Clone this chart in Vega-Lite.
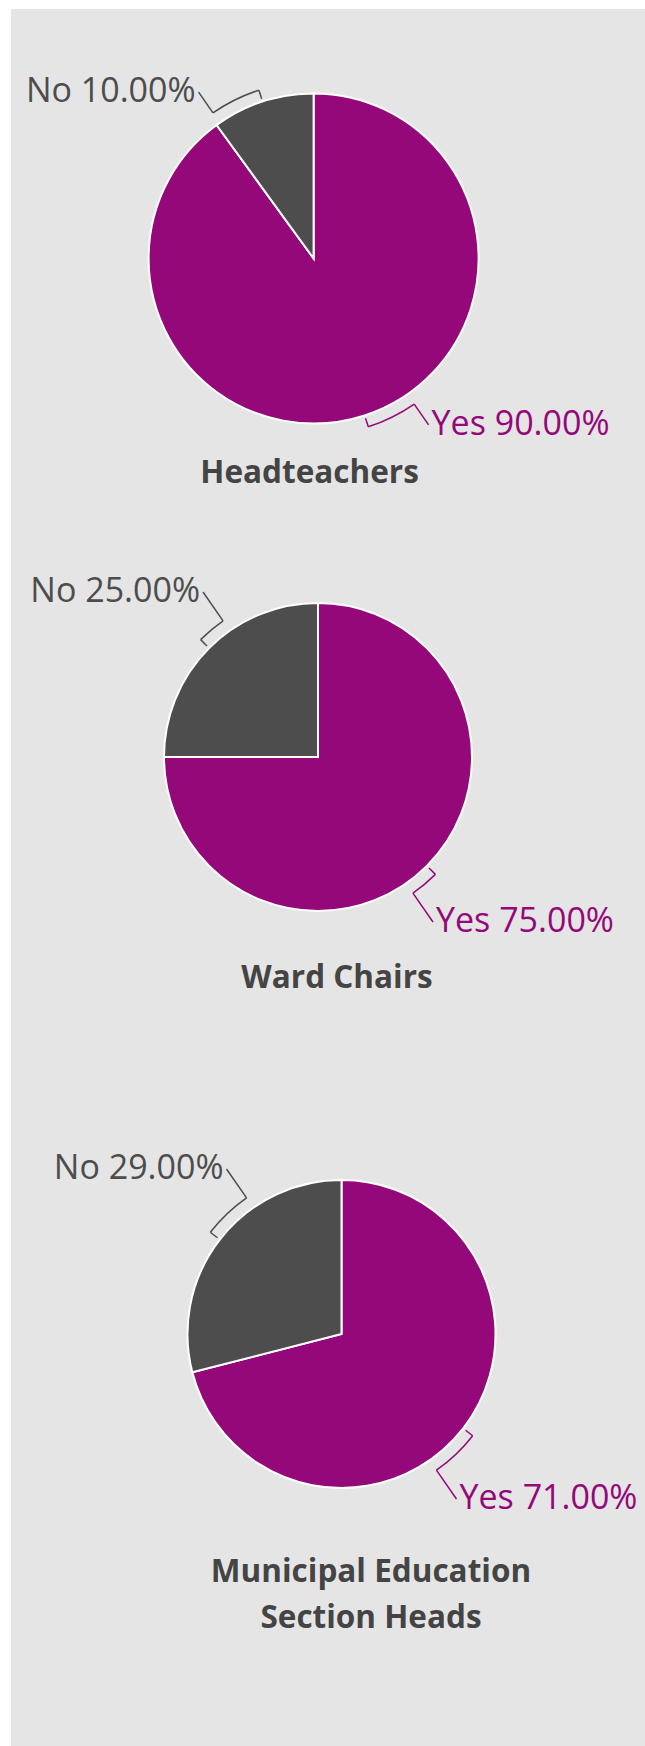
{
  "$schema": "https://vega.github.io/schema/vega-lite/v6.json",
  "background": "white",
  "padding": {"left": 11, "top": 9, "right": 0, "bottom": 0},
  "spacing": 0,
  "datasets": {
    "survey": [
      {"group": "Headteachers", "answer": "Yes", "value": 90},
      {"group": "Headteachers", "answer": "No", "value": 10},
      {"group": "Ward Chairs", "answer": "Yes", "value": 75},
      {"group": "Ward Chairs", "answer": "No", "value": 25},
      {"group": "Municipal Education\nSection Heads", "answer": "Yes", "value": 71},
      {"group": "Municipal Education\nSection Heads", "answer": "No", "value": 29}
    ]
  },
  "vconcat": [
    {
      "width": 634, "height": 531,
      "data": {"name": "survey"},
      "transform": [
        {"filter": "datum.group === 'Headteachers'"},
        {"joinaggregate": [{"op": "sum", "field": "value", "as": "total"}]},
        {"window": [{"op": "sum", "field": "value", "as": "cum"}], "sort": [{"field": "answer", "order": "descending"}], "frame": [null, 0]},
        {"calculate": "2*PI*(datum.cum-datum.value)/datum.total", "as": "a0"},
        {"calculate": "2*PI*datum.cum/datum.total", "as": "a1"},
        {"calculate": "(datum.a0+datum.a1)/2", "as": "am"},
        {"calculate": "sin(datum.am) >= 0 ? 115 : -115", "as": "lx"},
        {"calculate": "(cos(datum.am) >= 0 ? 1 : -1) * max(abs(175*cos(datum.am)), 165)", "as": "ly"},
        {"calculate": "atan2(datum.lx, datum.ly) < 0 ? atan2(datum.lx, datum.ly) + 2*PI : atan2(datum.lx, datum.ly)", "as": "aj"},
        {"calculate": "168*sin(datum.am)", "as": "tx0"},
        {"calculate": "168*cos(datum.am)", "as": "ty0"},
        {"calculate": "177*sin(datum.am)", "as": "tx1"},
        {"calculate": "177*cos(datum.am)", "as": "ty1"},
        {"calculate": "177*sin(datum.aj)", "as": "jx"},
        {"calculate": "177*cos(datum.aj)", "as": "jy"},
        {"calculate": "datum.answer + ' ' + format(datum.value, '.2f') + '%'", "as": "label"}
      ],
      "layer": [
        {
          "mark": {"type": "arc", "outerRadius": 165, "stroke": "white", "strokeWidth": 2},
          "encoding": {
            "x": {"datum": 0, "type": "quantitative", "scale": {"domain": [-302.6, 331.4], "nice": false, "zero": false}, "axis": null},
            "y": {"datum": 0, "type": "quantitative", "scale": {"domain": [-281.5, 249.5], "nice": false, "zero": false}, "axis": null},
            "theta": {"field": "a0", "type": "quantitative", "scale": null},
            "theta2": {"field": "a1"},
            "color": {"field": "answer", "type": "nominal", "scale": {"domain": ["Yes", "No"], "range": ["#94087a", "#4d4d4d"]}, "legend": null}
          }
        },
        {
          "mark": {"type": "arc", "innerRadius": 176.25, "outerRadius": 177.75},
          "encoding": {
            "x": {"datum": 0, "type": "quantitative", "scale": {"domain": [-302.6, 331.4], "nice": false, "zero": false}, "axis": null},
            "y": {"datum": 0, "type": "quantitative", "scale": {"domain": [-281.5, 249.5], "nice": false, "zero": false}, "axis": null},
            "theta": {"field": "am", "type": "quantitative", "scale": null},
            "theta2": {"field": "aj"},
            "color": {"field": "answer", "type": "nominal", "scale": {"domain": ["Yes", "No"], "range": ["#94087a", "#4d4d4d"]}, "legend": null}
          }
        },
        {
          "mark": {"type": "rule", "strokeWidth": 1.5},
          "encoding": {
            "x": {"field": "tx0", "type": "quantitative", "scale": {"domain": [-302.6, 331.4], "nice": false, "zero": false}, "axis": null},
            "y": {"field": "ty0", "type": "quantitative", "scale": {"domain": [-281.5, 249.5], "nice": false, "zero": false}, "axis": null},
            "x2": {"field": "tx1"},
            "y2": {"field": "ty1"},
            "color": {"field": "answer", "type": "nominal", "scale": {"domain": ["Yes", "No"], "range": ["#94087a", "#4d4d4d"]}, "legend": null}
          }
        },
        {
          "mark": {"type": "rule", "strokeWidth": 1.5},
          "encoding": {
            "x": {"field": "jx", "type": "quantitative", "scale": {"domain": [-302.6, 331.4], "nice": false, "zero": false}, "axis": null},
            "y": {"field": "jy", "type": "quantitative", "scale": {"domain": [-281.5, 249.5], "nice": false, "zero": false}, "axis": null},
            "x2": {"field": "lx"},
            "y2": {"field": "ly"},
            "color": {"field": "answer", "type": "nominal", "scale": {"domain": ["Yes", "No"], "range": ["#94087a", "#4d4d4d"]}, "legend": null}
          }
        },
        {
          "mark": {"type": "text", "font": "Open Sans", "fontSize": 34, "baseline": "middle", "align": {"expr": "datum.lx >= 0 ? 'left' : 'right'"}, "dx": {"expr": "datum.lx >= 0 ? 3 : -3"}},
          "encoding": {
            "x": {"field": "lx", "type": "quantitative", "scale": {"domain": [-302.6, 331.4], "nice": false, "zero": false}, "axis": null},
            "y": {"field": "ly", "type": "quantitative", "scale": {"domain": [-281.5, 249.5], "nice": false, "zero": false}, "axis": null},
            "text": {"field": "label"},
            "color": {"field": "answer", "type": "nominal", "scale": {"domain": ["Yes", "No"], "range": ["#94087a", "#4d4d4d"]}, "legend": null}
          }
        },
        {
          "transform": [{"filter": "datum.answer === 'Yes'"}],
          "mark": {"type": "text", "font": "Open Sans", "fontSize": 31.5, "fontWeight": "bold", "color": "#444444", "align": "center", "baseline": "alphabetic", "lineBreak": "\n", "lineHeight": 46.5},
          "encoding": {
            "x": {"datum": -4, "type": "quantitative", "scale": {"domain": [-302.6, 331.4], "nice": false, "zero": false}, "axis": null},
            "y": {"datum": -224.5, "type": "quantitative", "scale": {"domain": [-281.5, 249.5], "nice": false, "zero": false}, "axis": null},
            "text": {"field": "group"}
          }
        }
      ]
    },
    {
      "width": 634, "height": 520,
      "data": {"name": "survey"},
      "transform": [
        {"filter": "datum.group === 'Ward Chairs'"},
        {"joinaggregate": [{"op": "sum", "field": "value", "as": "total"}]},
        {"window": [{"op": "sum", "field": "value", "as": "cum"}], "sort": [{"field": "answer", "order": "descending"}], "frame": [null, 0]},
        {"calculate": "2*PI*(datum.cum-datum.value)/datum.total", "as": "a0"},
        {"calculate": "2*PI*datum.cum/datum.total", "as": "a1"},
        {"calculate": "(datum.a0+datum.a1)/2", "as": "am"},
        {"calculate": "sin(datum.am) >= 0 ? 115 : -115", "as": "lx"},
        {"calculate": "(cos(datum.am) >= 0 ? 1 : -1) * max(abs(174*cos(datum.am)), 165)", "as": "ly"},
        {"calculate": "atan2(datum.lx, datum.ly) < 0 ? atan2(datum.lx, datum.ly) + 2*PI : atan2(datum.lx, datum.ly)", "as": "aj"},
        {"calculate": "157*sin(datum.am)", "as": "tx0"},
        {"calculate": "157*cos(datum.am)", "as": "ty0"},
        {"calculate": "166*sin(datum.am)", "as": "tx1"},
        {"calculate": "166*cos(datum.am)", "as": "ty1"},
        {"calculate": "166*sin(datum.aj)", "as": "jx"},
        {"calculate": "166*cos(datum.aj)", "as": "jy"},
        {"calculate": "datum.answer + ' ' + format(datum.value, '.2f') + '%'", "as": "label"}
      ],
      "layer": [
        {
          "mark": {"type": "arc", "outerRadius": 154, "stroke": "white", "strokeWidth": 2},
          "encoding": {
            "x": {"datum": 0, "type": "quantitative", "scale": {"domain": [-307, 327], "nice": false, "zero": false}, "axis": null},
            "y": {"datum": 0, "type": "quantitative", "scale": {"domain": [-303, 217], "nice": false, "zero": false}, "axis": null},
            "theta": {"field": "a0", "type": "quantitative", "scale": null},
            "theta2": {"field": "a1"},
            "color": {"field": "answer", "type": "nominal", "scale": {"domain": ["Yes", "No"], "range": ["#94087a", "#4d4d4d"]}, "legend": null}
          }
        },
        {
          "mark": {"type": "arc", "innerRadius": 165.25, "outerRadius": 166.75},
          "encoding": {
            "x": {"datum": 0, "type": "quantitative", "scale": {"domain": [-307, 327], "nice": false, "zero": false}, "axis": null},
            "y": {"datum": 0, "type": "quantitative", "scale": {"domain": [-303, 217], "nice": false, "zero": false}, "axis": null},
            "theta": {"field": "am", "type": "quantitative", "scale": null},
            "theta2": {"field": "aj"},
            "color": {"field": "answer", "type": "nominal", "scale": {"domain": ["Yes", "No"], "range": ["#94087a", "#4d4d4d"]}, "legend": null}
          }
        },
        {
          "mark": {"type": "rule", "strokeWidth": 1.5},
          "encoding": {
            "x": {"field": "tx0", "type": "quantitative", "scale": {"domain": [-307, 327], "nice": false, "zero": false}, "axis": null},
            "y": {"field": "ty0", "type": "quantitative", "scale": {"domain": [-303, 217], "nice": false, "zero": false}, "axis": null},
            "x2": {"field": "tx1"},
            "y2": {"field": "ty1"},
            "color": {"field": "answer", "type": "nominal", "scale": {"domain": ["Yes", "No"], "range": ["#94087a", "#4d4d4d"]}, "legend": null}
          }
        },
        {
          "mark": {"type": "rule", "strokeWidth": 1.5},
          "encoding": {
            "x": {"field": "jx", "type": "quantitative", "scale": {"domain": [-307, 327], "nice": false, "zero": false}, "axis": null},
            "y": {"field": "jy", "type": "quantitative", "scale": {"domain": [-303, 217], "nice": false, "zero": false}, "axis": null},
            "x2": {"field": "lx"},
            "y2": {"field": "ly"},
            "color": {"field": "answer", "type": "nominal", "scale": {"domain": ["Yes", "No"], "range": ["#94087a", "#4d4d4d"]}, "legend": null}
          }
        },
        {
          "mark": {"type": "text", "font": "Open Sans", "fontSize": 34, "baseline": "middle", "align": {"expr": "datum.lx >= 0 ? 'left' : 'right'"}, "dx": {"expr": "datum.lx >= 0 ? 3 : -3"}},
          "encoding": {
            "x": {"field": "lx", "type": "quantitative", "scale": {"domain": [-307, 327], "nice": false, "zero": false}, "axis": null},
            "y": {"field": "ly", "type": "quantitative", "scale": {"domain": [-303, 217], "nice": false, "zero": false}, "axis": null},
            "text": {"field": "label"},
            "color": {"field": "answer", "type": "nominal", "scale": {"domain": ["Yes", "No"], "range": ["#94087a", "#4d4d4d"]}, "legend": null}
          }
        },
        {
          "transform": [{"filter": "datum.answer === 'Yes'"}],
          "mark": {"type": "text", "font": "Open Sans", "fontSize": 31.5, "fontWeight": "bold", "color": "#444444", "align": "center", "baseline": "alphabetic", "lineBreak": "\n", "lineHeight": 46.5},
          "encoding": {
            "x": {"datum": 19, "type": "quantitative", "scale": {"domain": [-307, 327], "nice": false, "zero": false}, "axis": null},
            "y": {"datum": -231, "type": "quantitative", "scale": {"domain": [-303, 217], "nice": false, "zero": false}, "axis": null},
            "text": {"field": "group"}
          }
        }
      ]
    },
    {
      "width": 634, "height": 686,
      "data": {"name": "survey"},
      "transform": [
        {"filter": "indexof(datum.group, 'Municipal') === 0"},
        {"joinaggregate": [{"op": "sum", "field": "value", "as": "total"}]},
        {"window": [{"op": "sum", "field": "value", "as": "cum"}], "sort": [{"field": "answer", "order": "descending"}], "frame": [null, 0]},
        {"calculate": "2*PI*(datum.cum-datum.value)/datum.total", "as": "a0"},
        {"calculate": "2*PI*datum.cum/datum.total", "as": "a1"},
        {"calculate": "(datum.a0+datum.a1)/2", "as": "am"},
        {"calculate": "sin(datum.am) >= 0 ? 115 : -115", "as": "lx"},
        {"calculate": "(cos(datum.am) >= 0 ? 1 : -1) * max(abs(174*cos(datum.am)), 165)", "as": "ly"},
        {"calculate": "atan2(datum.lx, datum.ly) < 0 ? atan2(datum.lx, datum.ly) + 2*PI : atan2(datum.lx, datum.ly)", "as": "aj"},
        {"calculate": "157*sin(datum.am)", "as": "tx0"},
        {"calculate": "157*cos(datum.am)", "as": "ty0"},
        {"calculate": "166*sin(datum.am)", "as": "tx1"},
        {"calculate": "166*cos(datum.am)", "as": "ty1"},
        {"calculate": "166*sin(datum.aj)", "as": "jx"},
        {"calculate": "166*cos(datum.aj)", "as": "jy"},
        {"calculate": "datum.answer + ' ' + format(datum.value, '.2f') + '%'", "as": "label"}
      ],
      "layer": [
        {
          "mark": {"type": "arc", "outerRadius": 154, "stroke": "white", "strokeWidth": 2},
          "encoding": {
            "x": {"datum": 0, "type": "quantitative", "scale": {"domain": [-330.5, 303.5], "nice": false, "zero": false}, "axis": null},
            "y": {"datum": 0, "type": "quantitative", "scale": {"domain": [-412, 274], "nice": false, "zero": false}, "axis": null},
            "theta": {"field": "a0", "type": "quantitative", "scale": null},
            "theta2": {"field": "a1"},
            "color": {"field": "answer", "type": "nominal", "scale": {"domain": ["Yes", "No"], "range": ["#94087a", "#4d4d4d"]}, "legend": null}
          }
        },
        {
          "mark": {"type": "arc", "innerRadius": 165.25, "outerRadius": 166.75},
          "encoding": {
            "x": {"datum": 0, "type": "quantitative", "scale": {"domain": [-330.5, 303.5], "nice": false, "zero": false}, "axis": null},
            "y": {"datum": 0, "type": "quantitative", "scale": {"domain": [-412, 274], "nice": false, "zero": false}, "axis": null},
            "theta": {"field": "am", "type": "quantitative", "scale": null},
            "theta2": {"field": "aj"},
            "color": {"field": "answer", "type": "nominal", "scale": {"domain": ["Yes", "No"], "range": ["#94087a", "#4d4d4d"]}, "legend": null}
          }
        },
        {
          "mark": {"type": "rule", "strokeWidth": 1.5},
          "encoding": {
            "x": {"field": "tx0", "type": "quantitative", "scale": {"domain": [-330.5, 303.5], "nice": false, "zero": false}, "axis": null},
            "y": {"field": "ty0", "type": "quantitative", "scale": {"domain": [-412, 274], "nice": false, "zero": false}, "axis": null},
            "x2": {"field": "tx1"},
            "y2": {"field": "ty1"},
            "color": {"field": "answer", "type": "nominal", "scale": {"domain": ["Yes", "No"], "range": ["#94087a", "#4d4d4d"]}, "legend": null}
          }
        },
        {
          "mark": {"type": "rule", "strokeWidth": 1.5},
          "encoding": {
            "x": {"field": "jx", "type": "quantitative", "scale": {"domain": [-330.5, 303.5], "nice": false, "zero": false}, "axis": null},
            "y": {"field": "jy", "type": "quantitative", "scale": {"domain": [-412, 274], "nice": false, "zero": false}, "axis": null},
            "x2": {"field": "lx"},
            "y2": {"field": "ly"},
            "color": {"field": "answer", "type": "nominal", "scale": {"domain": ["Yes", "No"], "range": ["#94087a", "#4d4d4d"]}, "legend": null}
          }
        },
        {
          "mark": {"type": "text", "font": "Open Sans", "fontSize": 34, "baseline": "middle", "align": {"expr": "datum.lx >= 0 ? 'left' : 'right'"}, "dx": {"expr": "datum.lx >= 0 ? 3 : -3"}},
          "encoding": {
            "x": {"field": "lx", "type": "quantitative", "scale": {"domain": [-330.5, 303.5], "nice": false, "zero": false}, "axis": null},
            "y": {"field": "ly", "type": "quantitative", "scale": {"domain": [-412, 274], "nice": false, "zero": false}, "axis": null},
            "text": {"field": "label"},
            "color": {"field": "answer", "type": "nominal", "scale": {"domain": ["Yes", "No"], "range": ["#94087a", "#4d4d4d"]}, "legend": null}
          }
        },
        {
          "transform": [{"filter": "datum.answer === 'Yes'"}],
          "mark": {"type": "text", "font": "Open Sans", "fontSize": 31.5, "fontWeight": "bold", "color": "#444444", "align": "center", "baseline": "alphabetic", "lineBreak": "\n", "lineHeight": 46.5},
          "encoding": {
            "x": {"datum": 29.5, "type": "quantitative", "scale": {"domain": [-330.5, 303.5], "nice": false, "zero": false}, "axis": null},
            "y": {"datum": -247.7, "type": "quantitative", "scale": {"domain": [-412, 274], "nice": false, "zero": false}, "axis": null},
            "text": {"field": "group"}
          }
        }
      ]
    }
  ],
  "resolve": {"scale": {"x": "independent", "y": "independent", "color": "shared"}},
  "config": {
    "view": {"stroke": null, "fill": "#e5e5e5"},
    "concat": {"spacing": 0},
    "font": "Open Sans"
  }
}
